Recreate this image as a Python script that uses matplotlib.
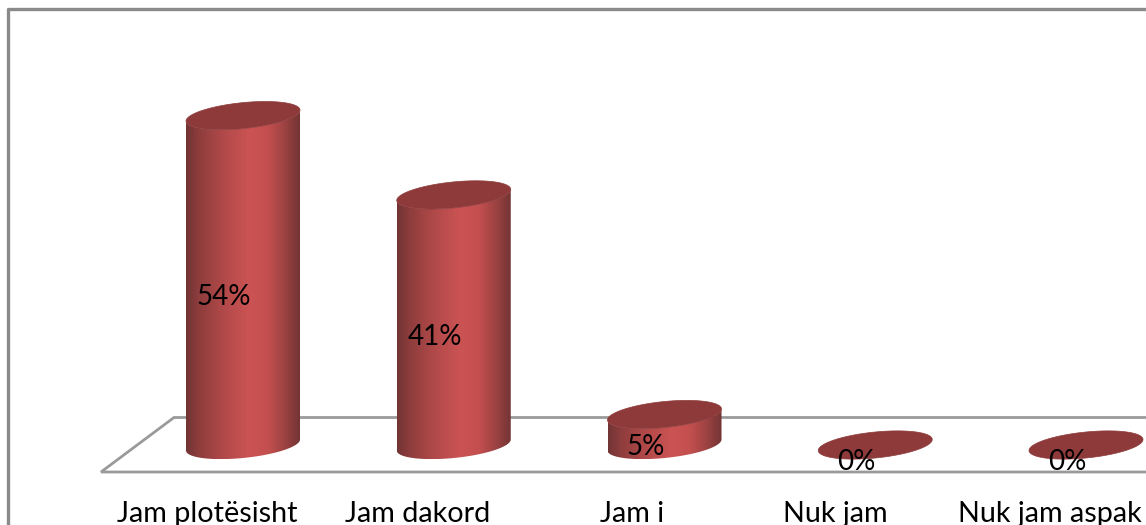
import numpy as np
import matplotlib
matplotlib.use('Agg')
import matplotlib.pyplot as plt
from matplotlib.colors import LinearSegmentedColormap
from matplotlib.patches import Polygon

categories = ['Jam plotësisht', 'Jam dakord', 'Jam i', 'Nuk jam', 'Nuk jam aspak']
values = [54, 41, 5, 0, 0]
value_labels = ['54%', '41%', '5%', '0%', '0%']

W, H = 1146, 525
X0, DX = 243.0, 210.75  # pixel x of the first cylinder, spacing
Y0, DY = 445.0, 6.1     # pixel y of the 0% level, pixels per percent

plt.rcParams['font.family'] = ['Lato', 'DejaVu Sans']

fig = plt.figure(figsize=(W / 100, H / 100), dpi=100, facecolor='white')
ax = fig.add_axes([0, 0, 1, 1])
ax.set_xlim(-X0 / DX, (W - X0) / DX)
ax.set_ylim((Y0 - H) / DY, Y0 / DY)
ax.axis('off')


def px(x, y):
    # pixel position -> data position
    return (x - X0) / DX, (Y0 - y) / DY


def ellipse(cx, cy, t):
    # tilted cap, left end lower than right end
    a, b, tilt = 57.0 / DX, 13.0 / DY, 5.5 / DY
    return cx + a * np.cos(t), cy + b * np.sin(t) + tilt * np.cos(t)


GRAY = '#8a8a8a'

# outer chart frame
fx, fy = zip(*[px(8, H), px(8, 9), px(W, 9)])
ax.plot(fx, fy, color=GRAY, lw=2.4, solid_capstyle='projecting', zorder=1)

# floor of the 3D plot
fx, fy = zip(*[px(W, 417.5), px(174, 417.5), px(101, 472), px(W, 472)])
ax.plot(fx, fy, color='#9a9a9a', lw=2.0, solid_joinstyle='miter', zorder=1)

side_cmap = LinearSegmentedColormap.from_list('side', [
    (0.00, '#733434'), (0.12, '#8f3d3d'), (0.32, '#b04949'),
    (0.55, '#cb5353'), (0.72, '#c44f4f'), (0.88, '#9a4141'),
    (1.00, '#733434'),
])
shade = np.linspace(0, 1, 256).reshape(1, -1)

# the wrapped axis labels sit a little off the common offset
label_nudge = [0, 0, 4, -4, 0]

for i, (val, lab, cat) in enumerate(zip(values, value_labels, categories)):
    t = np.linspace(0, 2 * np.pi, 200)
    if val > 0:
        # cylinder wall: lower arc of the base, closed along the top cap
        t_low = np.linspace(np.pi, 2 * np.pi, 100)
        bx, by = ellipse(i, 0, t_low)
        tx, ty = ellipse(i, val, t_low[::-1])
        verts = np.column_stack([np.r_[bx, tx], np.r_[by, ty]])
        wall = Polygon(verts, closed=True, fc='none', ec='none')
        ax.add_patch(wall)
        a = 57.0 / DX
        img = ax.imshow(shade, cmap=side_cmap, aspect='auto', zorder=2,
                        extent=[i - a, i + a, by.min(), ty.max()],
                        interpolation='bilinear')
        img.set_clip_path(wall)

    # top cap
    cx_, cy_ = ellipse(i, val, t)
    ax.add_patch(Polygon(np.column_stack([cx_, cy_]), closed=True,
                         fc='#8e3a3a', ec='#8e3a3a', lw=0.5, zorder=3))

    # data label, placed halfway up the wall
    lx = i - 19.0 / DX
    ly = val / 2 - 17.0 / DY
    ax.text(lx, ly, lab, ha='center', va='center', fontsize=20, color='black', zorder=4)

    # category label, runs off the lower edge
    ax.text(i + (label_nudge[i] - 36.0) / DX, px(0, 514)[1], cat, ha='center', va='center',
            fontsize=20.7, color='black', zorder=4)

ax.set_xlim(-X0 / DX, (W - X0) / DX)
ax.set_ylim((Y0 - H) / DY, Y0 / DY)

fig.savefig('out.png', dpi=100, facecolor='white')
